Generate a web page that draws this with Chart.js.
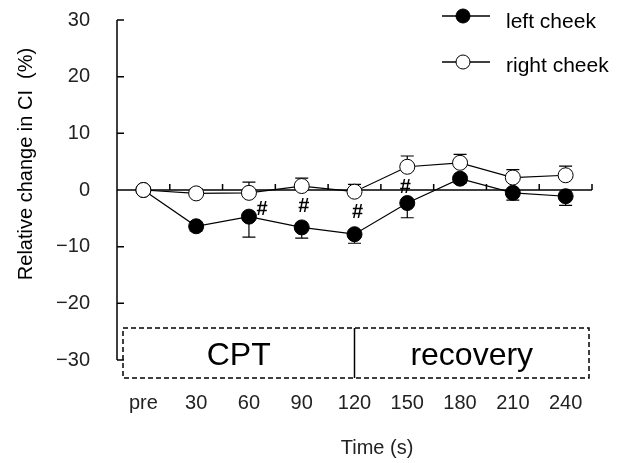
<!DOCTYPE html>
<html lang="en">
<head>
<meta charset="UTF-8" />
<title>Relative change in CI</title>
<script src="https://cdn.jsdelivr.net/npm/chart.js"></script>
<style>
  html, body { margin: 0; padding: 0; background: #fff; }
  #wrap { width: 628px; height: 463px; }
</style>
</head>
<body>
<div id="wrap"><canvas id="chart" width="628" height="463"></canvas></div>
<script>
  // values (%)
  const timeLabels = ['pre', '30', '60', '90', '120', '150', '180', '210', '240'];
  const leftCheek  = [0, -6.4, -4.7, -6.6, -7.8, -2.3, 2.0, -0.5, -1.1];
  const leftErr    = [0, 0.8, 3.6, 1.9, 1.6, 2.6, 0.8, 1.3, 1.6];
  const rightCheek = [0, -0.6, -0.5, 0.7, -0.3, 4.1, 4.8, 2.2, 2.6];
  const rightErr   = [0, 0.8, 1.9, 1.4, 1.3, 1.9, 1.5, 1.4, 1.6];
  const sigIndex   = [2, 3, 4, 5];
  const phaseNames = ['CPT', 'recovery'];
  const phaseSplit = 4; // index of "120"

  const FONT = "'Liberation Sans', Arial, sans-serif";
  Chart.defaults.font.family = FONT;
  Chart.defaults.color = '#222';

  const figurePlugin = {
    id: 'figure',
    beforeDatasetsDraw(chart) {
      const { ctx, chartArea: a, scales: { x, y } } = chart;
      ctx.save();
      ctx.strokeStyle = '#000';
      ctx.lineWidth = 1.5;
      ctx.beginPath();
      // y axis with inward ticks
      ctx.moveTo(a.left, a.top);
      ctx.lineTo(a.left, a.bottom);
      y.ticks.forEach(t => {
        const py = y.getPixelForValue(t.value);
        ctx.moveTo(a.left, py);
        ctx.lineTo(a.left + 7, py);
      });
      // x axis drawn at zero
      const y0 = y.getPixelForValue(0);
      ctx.moveTo(a.left, y0);
      ctx.lineTo(a.right, y0);
      for (let i = 0; i < timeLabels.length; i++) {
        const px = x.getPixelForValue(i + 0.5);
        ctx.moveTo(px, y0);
        ctx.lineTo(px, y0 - 6);
      }
      ctx.stroke();

      // one-sided error bars
      ctx.lineWidth = 1.2;
      const bars = (vals, errs, dir) => {
        ctx.beginPath();
        vals.forEach((v, i) => {
          if (!errs[i]) return;
          const px = x.getPixelForValue(i);
          const p1 = y.getPixelForValue(v);
          const p2 = y.getPixelForValue(v + dir * errs[i]);
          ctx.moveTo(px, p1);
          ctx.lineTo(px, p2);
          ctx.moveTo(px - 6.5, p2);
          ctx.lineTo(px + 6.5, p2);
        });
        ctx.stroke();
      };
      bars(leftCheek, leftErr, -1);
      bars(rightCheek, rightErr, 1);
      ctx.restore();
    },
    afterDraw(chart) {
      const { ctx, chartArea: a, scales: { x, y } } = chart;
      ctx.save();

      // CPT / recovery box
      const bx1 = a.left + 6, bx2 = a.right - 3;
      const by1 = a.bottom - 32, by2 = a.bottom + 18;
      const split = x.getPixelForValue(phaseSplit);
      ctx.strokeStyle = '#000';
      ctx.lineWidth = 1.5;
      ctx.setLineDash([5, 3]);
      ctx.strokeRect(bx1, by1, bx2 - bx1, by2 - by1);
      ctx.setLineDash([]);
      ctx.beginPath();
      ctx.moveTo(split, by1);
      ctx.lineTo(split, by2);
      ctx.stroke();
      ctx.fillStyle = '#000';
      ctx.font = '32px ' + FONT;
      ctx.textAlign = 'center';
      ctx.textBaseline = 'alphabetic';
      ctx.fillText(phaseNames[0], (bx1 + split) / 2, by1 + 37);
      ctx.fillText(phaseNames[1], (split + bx2) / 2, by1 + 37);

      // significance marks
      const hashOffset = [[13, -7], [2, -21], [3, -22], [-2, -16]];
      ctx.font = 'bold 20px ' + FONT;
      ctx.textBaseline = 'middle';
      sigIndex.forEach((i, k) => {
        const px = x.getPixelForValue(i) + hashOffset[k][0];
        const py = y.getPixelForValue(leftCheek[i]) + hashOffset[k][1];
        ctx.fillText('#', px, py);
      });

      // axis titles
      ctx.fillStyle = '#222';
      ctx.font = '20px ' + FONT;
      ctx.fillText('Time (s)', 377, 448);
      ctx.save();
      ctx.translate(26, 164);
      ctx.rotate(-Math.PI / 2);
      ctx.fillStyle = '#000';
      ctx.fillText('Relative change in CI  (%)', 0, 0);
      ctx.restore();

      // legend
      ctx.font = '21px ' + FONT;
      ctx.textAlign = 'left';
      ctx.textBaseline = 'alphabetic';
      const legendRows = [
        { ds: chart.data.datasets[1], ly: 16, ty: 28 },
        { ds: chart.data.datasets[0], ly: 62, ty: 72 }
      ];
      legendRows.forEach(r => {
        ctx.strokeStyle = '#000';
        ctx.lineWidth = 1.5;
        ctx.beginPath();
        ctx.moveTo(442, r.ly);
        ctx.lineTo(490, r.ly);
        ctx.stroke();
        ctx.beginPath();
        ctx.arc(463, r.ly, 7, 0, Math.PI * 2);
        ctx.fillStyle = r.ds.pointBackgroundColor;
        ctx.fill();
        ctx.lineWidth = 1;
        ctx.stroke();
        ctx.fillStyle = '#000';
        ctx.fillText(r.ds.label, 506, r.ty);
      });
      ctx.restore();
    }
  };

  new Chart(document.getElementById('chart'), {
    type: 'line',
    data: {
      labels: timeLabels,
      datasets: [
        {
          label: 'right cheek', data: rightCheek, order: 0,
          borderColor: '#000', borderWidth: 1.2,
          pointBackgroundColor: '#fff', pointBorderColor: '#000',
          pointBorderWidth: 1, pointRadius: 7.5, tension: 0
        },
        {
          label: 'left cheek', data: leftCheek, order: 1,
          borderColor: '#000', borderWidth: 1.2,
          pointBackgroundColor: '#000', pointBorderColor: '#000',
          pointBorderWidth: 1, pointRadius: 7.5, tension: 0
        }
      ]
    },
    options: {
      responsive: false,
      animation: false,
      layout: { autoPadding: false, padding: { top: 20, right: 36, left: 0, bottom: 0 } },
      plugins: { legend: { display: false }, tooltip: { enabled: false } },
      scales: {
        x: {
          type: 'category',
          offset: true,
          afterFit: s => { s.height = 103; s.paddingLeft = 0; s.paddingRight = 0; },
          grid: { display: false, drawTicks: false },
          border: { display: false },
          ticks: { font: { size: 20 }, color: '#222', padding: 31, maxRotation: 0, autoSkip: false }
        },
        y: {
          min: -30, max: 30,
          afterFit: s => { s.width = 117; s.paddingTop = 0; s.paddingBottom = 0; },
          grid: { display: false, drawTicks: false },
          border: { display: false },
          ticks: {
            stepSize: 10, font: { size: 20 }, color: '#222', padding: 27,
            callback: v => String(v).replace('-', '\u2212')
          }
        }
      }
    },
    plugins: [figurePlugin]
  });
</script>
</body>
</html>
